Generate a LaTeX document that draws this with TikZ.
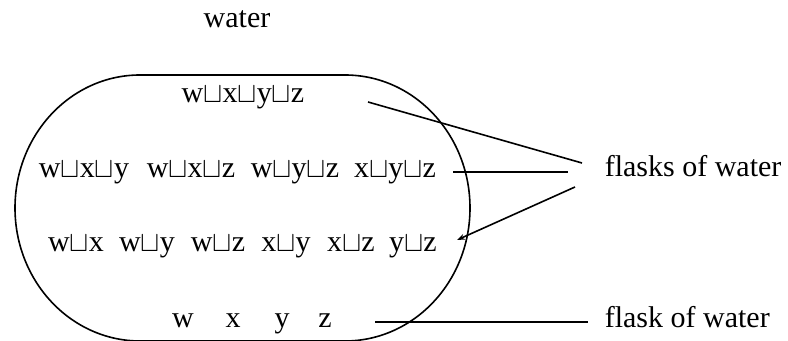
\documentclass[tikz,border=0pt]{standalone}
\usepackage{fontspec}
\setmainfont{Liberation Serif}
\usetikzlibrary{positioning,arrows.meta}
\newcommand{\jn}{$\sqcup$}

\begin{document}
\begin{tikzpicture}[x=0.5pt, y=0.5pt, line width=0.8pt,
    every node/.style={inner sep=1pt, anchor=base, font=\fontsize{15}{18}\selectfont}]
  \useasboundingbox (0,0) rectangle (788,341);
  % the family of sets
  \draw (140,266) -- (345,266)
    arc[start angle=90, end angle=-90, x radius=125, y radius=133]
    -- (140,0)
    arc[start angle=270, end angle=90, x radius=125, y radius=133] -- cycle;
  \node (water) at (237,313) {water};
  \node (wxyz) at (243,238) {w\jn x\jn y\jn z};
  \node (wxy) at (84,163) {w\jn x\jn y};
  \node (wxz) at (191,163) {w\jn x\jn z};
  \node (wyz) at (295,163) {w\jn y\jn z};
  \node (xyz) at (395,163) {x\jn y\jn z};
  \node (wx) at (76,89) {w\jn x};
  \node (wy) at (147,89) {w\jn y};
  \node (wz) at (218,89) {w\jn z};
  \node (xy) at (286,89) {x\jn y};
  \node (xz) at (351,89) {x\jn z};
  \node (yz) at (413,89) {y\jn z};
  \node (w) at (183,13) {w};
  \node (x) at (233,13) {x};
  \node (y) at (282,13) {y};
  \node (z) at (325,13) {z};
  \node[anchor=base west] (flasks) at (602,164) {flasks of water};
  \node[anchor=base west] (flask) at (602,13) {flask of water};
  % line ends
  \coordinate (a1) at (368,239);
  \coordinate (a2) at (582,178);
  \coordinate (b1) at (453,169);
  \coordinate (b2) at (568,169);
  \coordinate (c1) at (575,154);
  \coordinate (c2) at (457,101);
  \coordinate (d1) at (375,19);
  \coordinate (d2) at (588,19);
  \draw (a1) -- (a2);
  \draw (b1) -- (b2);
  \draw[-{Stealth[length=4pt,width=3pt]}] (c1) -- (c2);
  \draw (d1) -- (d2);
\end{tikzpicture}
\end{document}
